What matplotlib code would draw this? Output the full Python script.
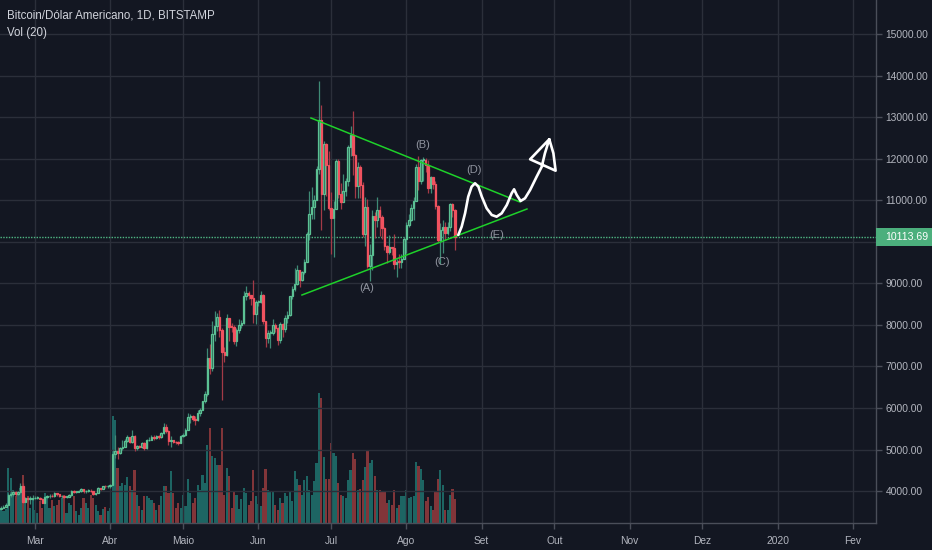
import pandas as pd
import numpy as np
import matplotlib
matplotlib.use('Agg')
import matplotlib.pyplot as plt
import matplotlib.dates as mdates
from matplotlib.patches import Rectangle
from matplotlib.transforms import blended_transform_factory

plt.rcParams['font.family'] = ['Liberation Sans', 'DejaVu Sans']

# DAILY CANDLES, BITSTAMP BTC/USD, 2019-02-15 .. 2019-08-21
dates = pd.date_range('2019-02-15', '2019-08-21', freq='D')

opens = [
    3570, 3600, 3620, 3670, 3900, 3930, 3970, 3920, 3970, 4120, 3740, 3830, 3800, 3810,  # fev
    3820, 3830, 3840, 3810, 3720, 3860, 3870, 3880, 3870, 3950, 3920, 3870, 3880, 3860, 3860, 3900,
    4010, 3980, 3980, 4010, 4040, 3990, 4000, 4010, 3990, 3930, 3950, 4070, 4060, 4120, 4110,  # mar
    4110, 4150, 4880, 4970, 4910, 5030, 5060, 5200, 5290, 5190, 5320, 5030, 5080, 5070, 5160,
    5030, 5220, 5240, 5290, 5280, 5330, 5290, 5390, 5550, 5450, 5200, 5220, 5190, 5170, 5160,  # abr
    5330, 5350, 5480, 5780, 5800, 5740, 5700, 5870, 5960, 6170, 6340, 7200, 6960, 7790, 7970, 8190,
    7880, 7360, 7270, 8180, 7960, 7950, 7620, 7880, 7990, 8050, 8700, 8780, 8720, 8660, 8260,  # mai
    8550, 8560, 8730, 8100, 7680, 7800, 7800, 8000, 7930, 7630, 8020, 7910, 8170, 8240, 8690,
    8860, 8990, 9320, 9080, 9270, 9530, 10200, 10670, 10850, 11010, 11770, 12930, 11160, 12370, 11860,  # jun
    10820, 10580, 10800, 11960, 11150, 10970, 11240, 11480, 12300, 12570, 12100, 11350, 11800, 11380, 10200, 10850,
    9430, 9690, 10630, 10530, 10760, 10600, 10330, 9900, 9770, 9880, 9850, 9480, 9530, 9510, 9590,  # jul
    10080, 10400, 10530, 10820, 10980, 11800, 11470, 11970, 11980, 11860, 11290,
    11560, 11390, 10870, 10040, 10300, 10360, 10220, 10360, 10910, 10760,  # ago
]
highs = [
    3640, 3660, 3700, 3960, 3990, 4000, 3990, 3990, 4200, 4190, 3860, 3850, 3880, 3900,
    3870, 3880, 3860, 3830, 3880, 3900, 3920, 3920, 3970, 3960, 3930, 3900, 3900, 3890, 3920, 4030,
    4020, 4010, 4030, 4080, 4050, 4020, 4040, 4040, 3990, 3960, 4100, 4080, 4130, 4140, 4140,
    4170, 5000, 5340, 5070, 5070, 5220, 5250, 5350, 5310, 5470, 5360, 5100, 5120, 5190, 5190,
    5250, 5300, 5340, 5340, 5350, 5350, 5420, 5640, 5620, 5480, 5330, 5230, 5210, 5200, 5360,
    5400, 5530, 5880, 5850, 5830, 5800, 5960, 6000, 6180, 6420, 7450, 7550, 8100, 8330, 8290, 8350,
    7920, 7470, 8270, 8180, 8040, 8010, 7930, 8150, 8130, 8830, 8930, 8810, 8720, 9090, 8600,
    8600, 8820, 8740, 8100, 7880, 7870, 8140, 8050, 7960, 8080, 8040, 8240, 8330, 8710, 8940,
    9380, 9450, 9330, 9310, 9600, 10230, 11240, 11320, 11140, 11820, 13880, 13300, 12440, 12380, 12190,
    11200, 10980, 11990, 12000, 11430, 11630, 11550, 12340, 12800, 13150, 12110, 11930, 11860, 11450, 11080, 11030,
    9950, 10760, 10730, 11080, 10860, 10650, 10350, 9930, 10170, 9880, 10190, 9580, 9700, 9700, 10130,
    10490, 10670, 10910, 11080, 11890, 12080, 12000, 12050, 12030, 11980, 11580,
    11560, 11460, 10880, 10450, 10520, 10480, 10480, 10940, 10950, 10800,
]
lows = [
    3570, 3590, 3610, 3660, 3850, 3880, 3880, 3900, 3940, 3710, 3730, 3760, 3680, 3790,
    3800, 3810, 3780, 3700, 3710, 3840, 3840, 3850, 3860, 3880, 3850, 3840, 3840, 3830, 3850, 3890,
    3950, 3940, 3970, 3980, 3960, 3960, 3980, 3970, 3910, 3910, 3940, 4030, 4040, 4080, 4080,
    4080, 4140, 4800, 4780, 4880, 4980, 5050, 5180, 5150, 5160, 4960, 4990, 5040, 5040, 5000,
    5020, 5200, 5220, 5230, 5260, 5250, 5270, 5380, 5400, 5100, 5050, 5150, 5130, 5110, 5150,
    5310, 5320, 5460, 5650, 5680, 5600, 5680, 5800, 5940, 6120, 6280, 6830, 6900, 7620, 7860, 7700,
    6200, 7110, 7250, 7610, 7820, 7540, 7500, 7800, 7920, 8030, 8600, 8620, 8480, 8060, 8030,
    8450, 8540, 8030, 7460, 7560, 7450, 7760, 7820, 7520, 7560, 7700, 7820, 8050, 8210, 8620,
    8810, 8960, 8920, 9050, 9230, 9510, 10040, 10560, 10550, 11000, 11650, 10300, 10780, 11100, 10760,
    9700, 9650, 10800, 11070, 10800, 10960, 11110, 11360, 12080, 11610, 11050, 11050, 11050, 10120, 9900, 9370,
    9070, 9320, 10100, 10350, 10150, 10080, 9800, 9500, 9720, 9690, 9350, 9160, 9380, 9380, 9590,
    9740, 10360, 10500, 10540, 10980, 11250, 11400, 11480, 11680, 11190, 11170,
    11280, 10800, 10000, 9480, 9740, 10050, 10160, 10270, 10600, 9800,
]
closes = [
    3600, 3620, 3670, 3900, 3930, 3970, 3920, 3970, 4120, 3740, 3830, 3800, 3810, 3820,
    3830, 3840, 3810, 3720, 3860, 3870, 3880, 3870, 3950, 3920, 3870, 3880, 3860, 3860, 3900, 4010,
    3980, 3980, 4010, 4040, 3990, 4000, 4010, 3990, 3930, 3950, 4070, 4060, 4120, 4110, 4110,
    4150, 4880, 4970, 4910, 5030, 5060, 5200, 5290, 5190, 5320, 5030, 5080, 5070, 5160, 5030,
    5220, 5240, 5290, 5280, 5330, 5290, 5390, 5550, 5450, 5200, 5220, 5190, 5170, 5160, 5330,
    5350, 5480, 5780, 5800, 5740, 5700, 5870, 5960, 6170, 6340, 7200, 6960, 7790, 7970, 8190, 7880,
    7360, 7270, 8180, 7960, 7950, 7620, 7880, 7990, 8050, 8700, 8780, 8720, 8660, 8260, 8550,
    8560, 8730, 8100, 7680, 7800, 7800, 8000, 7930, 7630, 8020, 7910, 8170, 8240, 8690, 8860,
    8990, 9320, 9080, 9270, 9530, 10200, 10670, 10850, 11010, 11770, 12930, 11160, 12370, 11860, 10820,
    10580, 10800, 11960, 11150, 10970, 11240, 11480, 12300, 12570, 12100, 11350, 11800, 11380, 10200, 10850, 9430,
    9690, 10630, 10530, 10760, 10600, 10330, 9900, 9770, 9880, 9850, 9480, 9530, 9510, 9590, 10080,
    10400, 10530, 10820, 10980, 11800, 11470, 11970, 11980, 11860, 11290, 11560,
    11390, 10870, 10040, 10300, 10360, 10220, 10360, 10910, 10760, 10113.69,
]
vols = [
    13, 12, 14, 55, 45, 33, 27, 30, 35, 48, 23, 27, 15, 25,
    13, 10, 22, 15, 30, 27, 15, 23, 17, 18, 23, 25, 28, 10, 20, 18,
    27, 12, 8, 15, 25, 20, 15, 28, 25, 18, 12, 8, 14, 16, 12,
    15, 107, 103, 55, 37, 40, 38, 46, 37, 33, 53, 28, 17, 13, 27,
    27, 25, 23, 20, 13, 18, 27, 37, 37, 30, 52, 30, 15, 20, 15,
    28, 17, 44, 30, 20, 25, 38, 33, 48, 40, 78, 95, 67, 65, 58, 58,
    95, 28, 55, 47, 15, 31, 28, 14, 24, 35, 30, 18, 22, 53, 27,
    19, 17, 35, 54, 33, 32, 31, 18, 13, 25, 20, 30, 27, 31, 22,
    52, 44, 38, 28, 43, 47, 33, 28, 42, 60, 130, 125, 66, 44, 44,
    80, 70, 67, 40, 28, 27, 25, 43, 53, 70, 64, 33, 34, 43, 56, 73,
    60, 63, 47, 33, 33, 32, 32, 20, 23, 18, 33, 15, 18, 27, 27,
    33, 25, 26, 27, 61, 57, 54, 43, 22, 26, 17,
    13, 32, 44, 53, 38, 13, 13, 28, 34, 24,
]

month_ticks = pd.date_range('2019-03-01', '2020-02-01', freq='MS')
month_labels = ['Mar', 'Abr', 'Maio', 'Jun', 'Jul', 'Ago', 'Set', 'Out', 'Nov', 'Dez', '2020', 'Fev']
price_ticks = list(range(4000, 15001, 1000))

# DRAWINGS ON THE CHART (days after 2019-03-01, price)
upper_line = [(113.7, 12988), (199.8, 10964)]
lower_line = [(110.0, 8723), (202.7, 10795)]
wave_labels = [('(A)', 136.8, 8892), ('(B)', 159.9, 12337), ('(C)', 167.7, 9518),
               ('(D)', 180.9, 11735), ('(E)', 190.4, 10169)]
brush_d = [174.4, 175.8, 177.2, 178.5, 179.9, 181.3, 182.7, 184.1, 186.1, 188.2, 190.2,
           192.3, 194.4, 196.4, 197.4, 198.5, 200.1, 201.9, 204.0, 206.7, 208.8, 210.1,
           211.9, 204.0, 214.5, 213.6, 211.9]
brush_p = [10169, 10369, 10692, 11092, 11333, 11415, 11333, 11092, 10812, 10651, 10610,
           10692, 10892, 11174, 11270, 11133, 10988, 11053, 11253, 11574, 11814, 12137,
           12475, 11993, 11718, 12137, 12475]

BG = '#131722'
GRID = '#2b2f3a'
AXC = '#4a4e59'
TXT = '#b2b5be'

o = np.array(opens, dtype=float)
h = np.array(highs, dtype=float)
l = np.array(lows, dtype=float)
c = np.array(closes, dtype=float)
v = np.array(vols, dtype=float)
x = mdates.date2num(dates)
up = c >= o
base = mdates.date2num(pd.Timestamp('2019-03-01'))

fig = plt.figure(figsize=(9.32, 5.5), dpi=100, facecolor=BG)
rect = [0, 27 / 550, 876 / 932, 523 / 550]
axv = fig.add_axes(rect)
ax = fig.add_axes(rect)
ax.set_zorder(axv.get_zorder() + 1)
ax.patch.set_visible(False)
axv.set_facecolor(BG)

x0 = base - 35 / 2.427
x1 = base + (876 - 35) / 2.427
ylo, yhi = 3229, 15831
for a in (ax, axv):
    a.set_xlim(x0, x1)

# VOLUME
axv.bar(x[up], v[up], width=0.88, color='#26a69a', alpha=0.55, linewidth=0)
axv.bar(x[~up], v[~up], width=0.88, color='#ef5350', alpha=0.5, linewidth=0)
axv.set_ylim(0, v.max() * 523 / 130)
axv.axis('off')

# CANDLES
ax.vlines(x[up], l[up], h[up], color='#3f8a75', linewidth=0.9, zorder=3)
ax.vlines(x[~up], l[~up], h[~up], color='#a33a47', linewidth=0.9, zorder=3)
body = np.maximum(np.abs(c - o), 20)
ax.bar(x[up], body[up], bottom=np.minimum(o, c)[up], width=0.62, color='#2a6553',
       edgecolor='#5cc194', linewidth=0.9, zorder=4)
ax.bar(x[~up], body[~up], bottom=np.minimum(o, c)[~up], width=0.62, color='#f0525f',
       edgecolor='#f0525f', linewidth=0.9, zorder=4)

ax.set_ylim(ylo, yhi)
ax.yaxis.tick_right()
ax.set_yticks(price_ticks)
# the 10000 label sits under the last-price box, as in the reference
ax.set_yticklabels(['' if t == 10000 else '%.2f' % t for t in price_ticks])
ax.set_xticks(mdates.date2num(month_ticks))
ax.set_xticklabels(month_labels)
ax.tick_params(axis='both', colors=AXC, labelcolor=TXT, labelsize=7.4, length=4, width=1)
ax.tick_params(axis='y', pad=3)
ax.tick_params(axis='x', pad=5)
ax.grid(True, color=GRID, linewidth=1, zorder=0)
ax.set_axisbelow(True)
for s in ('top', 'left'):
    ax.spines[s].set_visible(False)
for s in ('right', 'bottom'):
    ax.spines[s].set_color(AXC)
    ax.spines[s].set_linewidth(1)

# LAST PRICE LINE AND LABEL
last = c[-1]
ax.axhline(last, color='#4fb784', linewidth=1, linestyle=(0, (1, 1)), zorder=2)
tr = blended_transform_factory(ax.transAxes, ax.transData)
bh = 18 * (yhi - ylo) / 523
ax.add_patch(Rectangle((1.0, last - bh / 2), 60 / 876, bh, transform=tr, facecolor='#4caf7d',
                       edgecolor='none', clip_on=False, zorder=6))
ax.text(1.0 + 9 / 876, last, '%.2f' % last, transform=tr, color='white', fontsize=7.6,
        va='center', ha='left', zorder=7, clip_on=False)

# TRIANGLE, LABELS AND BRUSH
for line in (upper_line, lower_line):
    ax.plot([base + p[0] for p in line], [p[1] for p in line], color='#1ed12a', linewidth=1.1, zorder=5)
for txt, d, p in wave_labels:
    ax.text(base + d, p, txt, color='#8f939e', fontsize=8, ha='center', va='center', zorder=5)
ax.plot([base + d for d in brush_d], brush_p, color='white', linewidth=1.9,
        solid_joinstyle='round', solid_capstyle='round', zorder=6)

fig.text(7 / 932, 1 - 16 / 550, 'Bitcoin/Dólar Americano, 1D, BITSTAMP', color='#d1d4dc',
         fontsize=8.3, va='center', ha='left')
fig.text(7 / 932, 1 - 33 / 550, 'Vol (20)', color='#d1d4dc', fontsize=8.3, va='center', ha='left')

plt.savefig('out.png', dpi=100, facecolor=BG)
